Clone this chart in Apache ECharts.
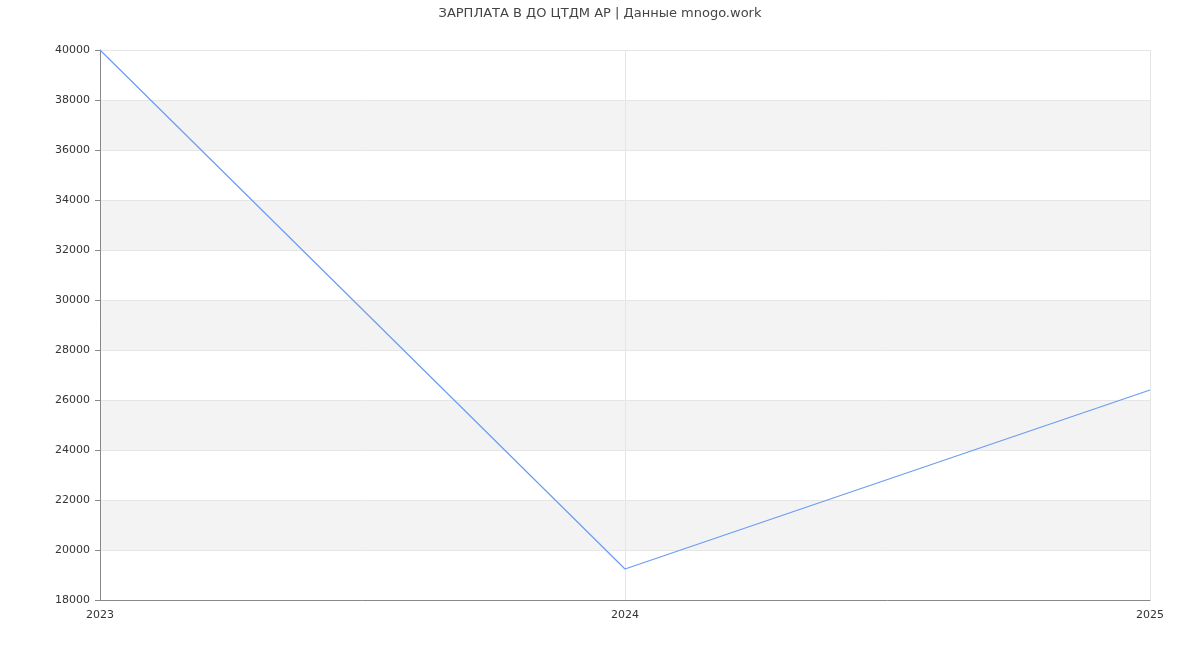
<!DOCTYPE html>
<html><head><meta charset="utf-8">
<script src="https://cdn.jsdelivr.net/npm/echarts@6/dist/echarts.min.js"></script>
<style>html,body{margin:0;padding:0;background:#fff}#c{width:1200px;height:650px}</style>
</head><body><div id="c"></div>
<script>
const titleText = 'ЗАРПЛАТА В ДО ЦТДМ АР | Данные mnogo.work';
const years = ['2023', '2024', '2025'];
const salary = [40000, 19240, 26400];

const chart = echarts.init(document.getElementById('c'));
chart.setOption({
  animation: false,
  backgroundColor: '#fff',
  title: {
    text: titleText, left: 'center', top: 2,
    textStyle: { fontSize: 13, fontWeight: 'normal', color: '#444', fontFamily: 'DejaVu Sans' }
  },
  grid: { left: 100, right: 50, top: 50, bottom: 50 },
  xAxis: {
    type: 'category', data: years, boundaryGap: false,
    axisLine: { lineStyle: { color: '#888' } },
    axisTick: { show: false },
    axisLabel: { color: '#333', fontSize: 11, fontFamily: 'DejaVu Sans', margin: 10 },
    splitLine: { show: true, lineStyle: { color: '#e6e6e6' } }
  },
  yAxis: {
    type: 'value', min: 18000, max: 40000, interval: 2000,
    axisLine: { show: true, lineStyle: { color: '#888' } },
    axisTick: { show: true, length: 5, lineStyle: { color: '#888' } },
    axisLabel: { color: '#333', fontSize: 11, fontFamily: 'DejaVu Sans', margin: 10, formatter: v => String(v) },
    splitLine: { show: true, lineStyle: { color: '#e6e6e6' } },
    splitArea: { show: true, areaStyle: { color: ['#ffffff', '#f3f3f3'] } }
  },
  series: [{
    type: 'line', data: salary, showSymbol: false, symbol: 'none',
    lineStyle: { color: '#6b9cf5', width: 1.2 }
  }]
});
</script></body></html>
